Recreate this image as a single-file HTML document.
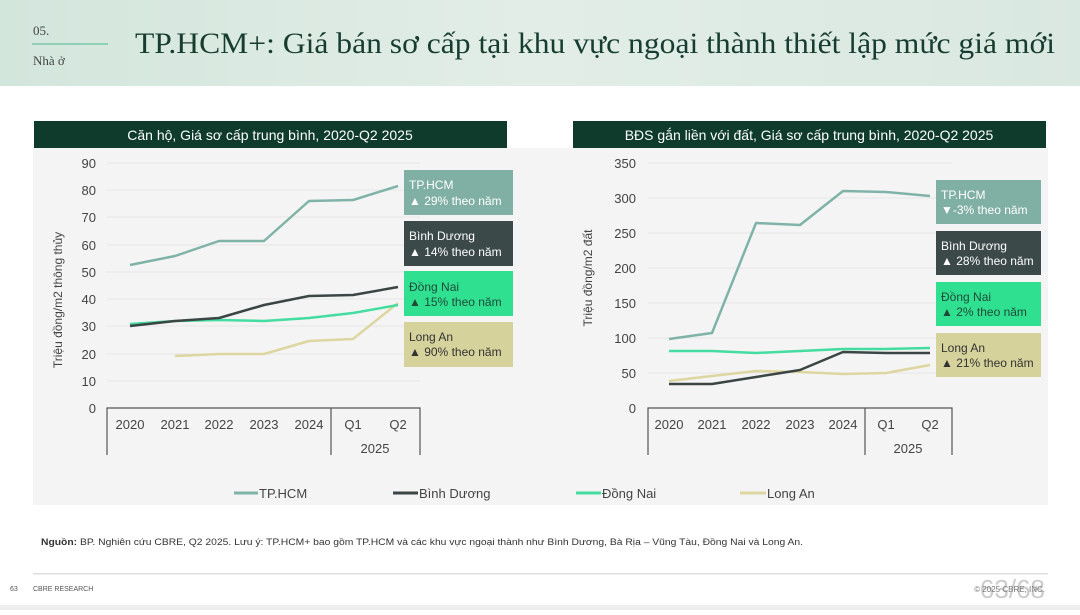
<!DOCTYPE html>
<html><head><meta charset="utf-8"><style>
body{margin:0;width:1080px;height:610px;overflow:hidden;background:#fff;font-family:"Liberation Sans",sans-serif}
</style></head><body>
<svg width="1080" height="610" xmlns="http://www.w3.org/2000/svg" font-family="Liberation Sans, sans-serif">
<defs><linearGradient id="hg" x1="0" x2="1"><stop offset="0" stop-color="#d3e6dc"/><stop offset="0.5" stop-color="#e2ede7"/><stop offset="1" stop-color="#d9e8e1"/></linearGradient></defs>
<rect x="0" y="0" width="1080" height="86" fill="url(#hg)"/>
<text x="33" y="35" font-family="Liberation Serif, serif" font-size="13" fill="#444">05.</text>
<rect x="32" y="43" width="76" height="2" fill="#8fd0b6"/>
<text x="33" y="65" font-family="Liberation Serif, serif" font-size="13" fill="#444">Nhà ở</text>
<text x="135" y="53" font-family="Liberation Serif, serif" font-size="30" fill="#173d30" textLength="920" lengthAdjust="spacingAndGlyphs">TP.HCM+: Giá bán sơ cấp tại khu vực ngoại thành thiết lập mức giá mới</text>
<rect x="33" y="148" width="1015" height="357" fill="#f4f4f4"/>
<rect x="34" y="121" width="473" height="27" fill="#0e3b2c"/>
<text x="270" y="140" text-anchor="middle" font-size="14" fill="#fff">Căn hộ, Giá sơ cấp trung bình, 2020-Q2 2025</text>
<rect x="573" y="121" width="473" height="27" fill="#0e3b2c"/>
<text x="809" y="140" text-anchor="middle" font-size="14" fill="#fff">BĐS gắn liền với đất, Giá sơ cấp trung bình, 2020-Q2 2025</text>
<g stroke="#e6e6e6" stroke-width="1">
<line x1="107" x2="420" y1="163" y2="163"/><line x1="107" x2="420" y1="190" y2="190"/><line x1="107" x2="420" y1="217" y2="217"/><line x1="107" x2="420" y1="245" y2="245"/><line x1="107" x2="420" y1="272" y2="272"/><line x1="107" x2="420" y1="299" y2="299"/><line x1="107" x2="420" y1="326" y2="326"/><line x1="107" x2="420" y1="354" y2="354"/><line x1="107" x2="420" y1="381" y2="381"/>
<line x1="648" x2="952" y1="163" y2="163"/><line x1="648" x2="952" y1="198" y2="198"/><line x1="648" x2="952" y1="233" y2="233"/><line x1="648" x2="952" y1="268" y2="268"/><line x1="648" x2="952" y1="303" y2="303"/><line x1="648" x2="952" y1="338" y2="338"/><line x1="648" x2="952" y1="373" y2="373"/>
</g>
<g font-size="13" fill="#444" text-anchor="end">
<text x="96" y="168">90</text><text x="96" y="195">80</text><text x="96" y="222">70</text><text x="96" y="250">60</text><text x="96" y="277">50</text><text x="96" y="304">40</text><text x="96" y="331">30</text><text x="96" y="359">20</text><text x="96" y="386">10</text><text x="96" y="413">0</text>
<text x="636" y="168">350</text><text x="636" y="203">300</text><text x="636" y="238">250</text><text x="636" y="273">200</text><text x="636" y="308">150</text><text x="636" y="343">100</text><text x="636" y="378">50</text><text x="636" y="413">0</text>
</g>
<text transform="translate(62,300) rotate(-90)" text-anchor="middle" font-size="12" fill="#444">Triệu đồng/m2 thông thủy</text>
<text transform="translate(592,278) rotate(-90)" text-anchor="middle" font-size="12" fill="#444">Triệu đồng/m2 đất</text>
<g stroke="#555" stroke-width="1.2" fill="none">
<path d="M107 455V408H420V455M331 408V455"/>
<path d="M648 455V408H952V455M865 408V455"/>
</g>
<g font-size="13" fill="#444" text-anchor="middle">
<text x="130" y="429">2020</text><text x="175" y="429">2021</text><text x="219" y="429">2022</text><text x="264" y="429">2023</text><text x="309" y="429">2024</text><text x="353" y="429">Q1</text><text x="398" y="429">Q2</text><text x="375" y="453">2025</text>
<text x="669" y="429">2020</text><text x="712" y="429">2021</text><text x="756" y="429">2022</text><text x="800" y="429">2023</text><text x="843" y="429">2024</text><text x="886" y="429">Q1</text><text x="930" y="429">Q2</text><text x="908" y="453">2025</text>
</g>
<g fill="none" stroke-width="2.5" stroke-linejoin="round">
<polyline stroke="#ddd6a0" points="175,356 219,354 264,354 309,341 353,339 398,303"/>
<polyline stroke="#44dca0" points="130,324 175,321 219,320 264,321 309,318 353,313 398,305"/>
<polyline stroke="#3a4544" points="130,326 175,321 219,318 264,305 309,296 353,295 398,287"/>
<polyline stroke="#80b3a7" points="130,265 175,256 219,241 264,241 309,201 353,200 398,186"/>
<polyline stroke="#ddd6a0" points="669,381 712,376 756,371 800,372 843,374 886,373 930,365"/>
<polyline stroke="#44dca0" points="669,351 712,351 756,353 800,351 843,349 886,349 930,348"/>
<polyline stroke="#3a4544" points="669,384 712,384 756,377 800,370 843,352 886,353 930,353"/>
<polyline stroke="#80b3a7" points="669,339 712,333 756,223 800,225 843,191 886,192 930,196"/>
</g>
<g font-size="12">
<rect x="404" y="170" width="109" height="45" fill="#80b0a3"/><text x="409" y="189" fill="#fff">TP.HCM</text><text x="409" y="205" fill="#fff">▲ 29% theo năm</text>
<rect x="404" y="221" width="109" height="45" fill="#3b4a49"/><text x="409" y="240" fill="#fff">Bình Dương</text><text x="409" y="256" fill="#fff">▲ 14% theo năm</text>
<rect x="404" y="271" width="109" height="45" fill="#2fe090"/><text x="409" y="291" fill="#1f4a38">Đồng Nai</text><text x="409" y="306" fill="#1f4a38">▲ 15% theo năm</text>
<rect x="404" y="322" width="109" height="45" fill="#d6d29c"/><text x="409" y="341" fill="#333">Long An</text><text x="409" y="356" fill="#333">▲ 90% theo năm</text>
<rect x="936" y="180" width="105" height="44" fill="#80b0a3"/><text x="941" y="199" fill="#fff">TP.HCM</text><text x="941" y="214" fill="#fff">▼-3% theo năm</text>
<rect x="936" y="231" width="105" height="44" fill="#3b4a49"/><text x="941" y="250" fill="#fff">Bình Dương</text><text x="941" y="265" fill="#fff">▲ 28% theo năm</text>
<rect x="936" y="282" width="105" height="44" fill="#2fe090"/><text x="941" y="301" fill="#1f4a38">Đồng Nai</text><text x="941" y="316" fill="#1f4a38">▲ 2% theo năm</text>
<rect x="936" y="333" width="105" height="44" fill="#d6d29c"/><text x="941" y="352" fill="#333">Long An</text><text x="941" y="367" fill="#333">▲ 21% theo năm</text>
</g>
<g stroke-width="3"><line x1="234" x2="258" y1="493" y2="493" stroke="#80b3a7"/><line x1="393" x2="418" y1="493" y2="493" stroke="#3a4544"/><line x1="576" x2="601" y1="493" y2="493" stroke="#44dca0"/><line x1="740" x2="766" y1="493" y2="493" stroke="#ddd6a0"/></g>
<g font-size="13" fill="#444"><text x="259" y="498">TP.HCM</text><text x="419" y="498">Bình Dương</text><text x="602" y="498">Đồng Nai</text><text x="767" y="498">Long An</text></g>
<text x="41" y="545" font-size="9" fill="#333" textLength="762" lengthAdjust="spacingAndGlyphs"><tspan font-weight="bold">Nguồn:</tspan> BP. Nghiên cứu CBRE, Q2 2025. Lưu ý: TP.HCM+ bao gồm TP.HCM và các khu vực ngoại thành như Bình Dương, Bà Rịa – Vũng Tàu, Đồng Nai và Long An.</text>
<rect x="33" y="573" width="1015" height="1.5" fill="#ddd"/>
<text x="10" y="591" font-size="7" fill="#555">63</text><text x="33" y="591" font-size="7" fill="#555">CBRE RESEARCH</text>
<text x="1045" y="598" text-anchor="end" font-size="26" fill="#ccc">63/68</text>
<text x="1045" y="592" text-anchor="end" font-size="8" fill="#777">© 2025 CBRE, INC.</text>
<rect x="0" y="605" width="1080" height="5" fill="#eee"/>
</svg>
</body></html>
